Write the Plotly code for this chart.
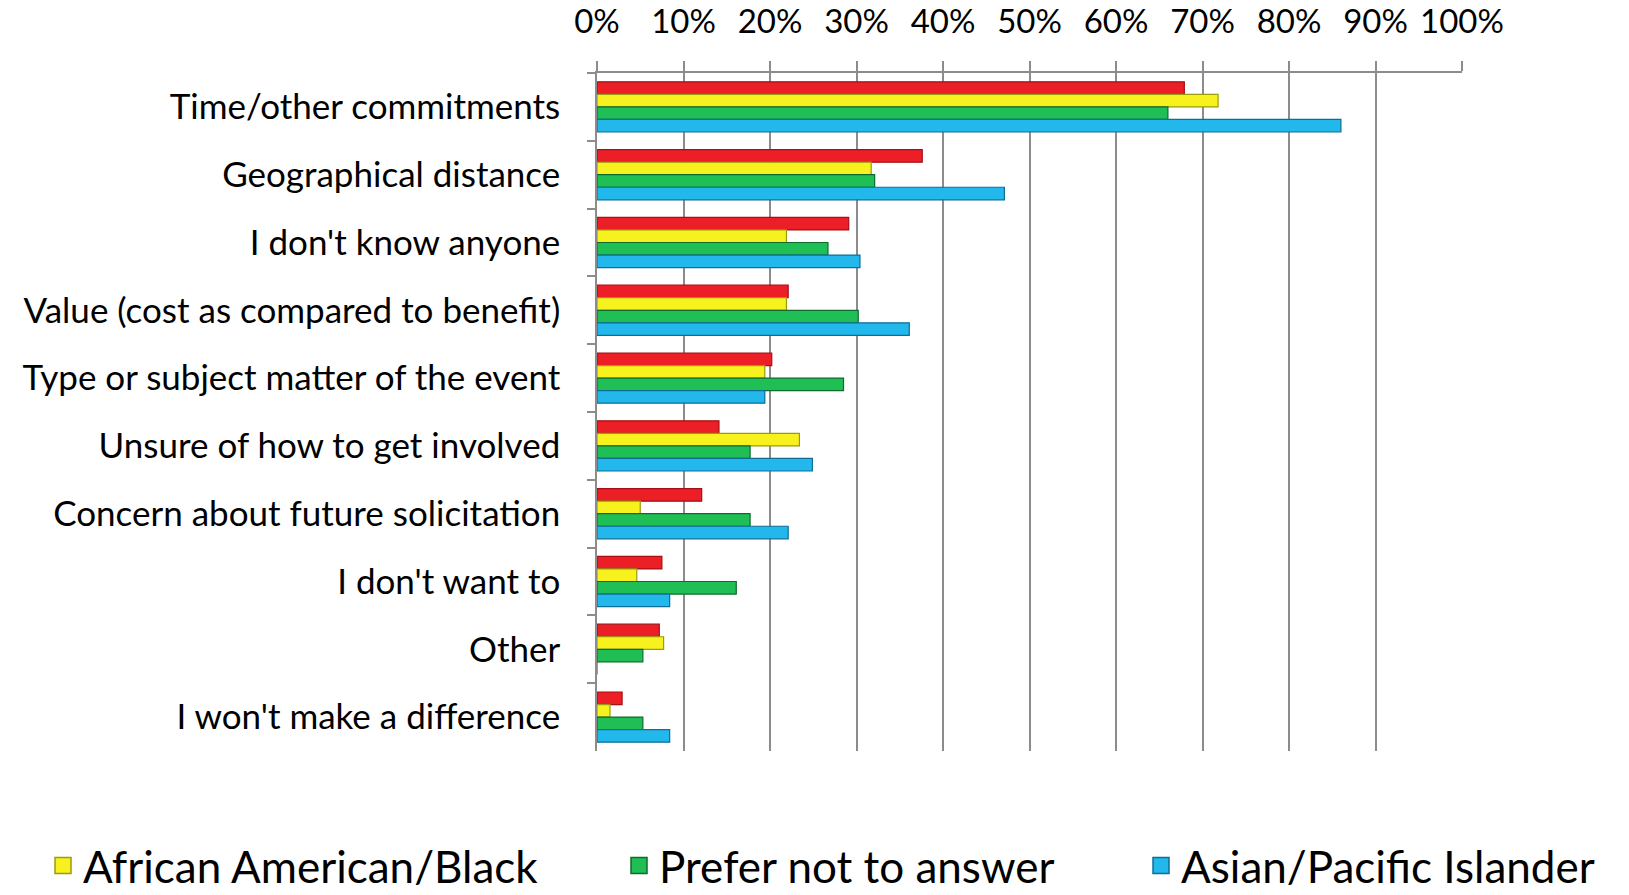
import plotly.graph_objects as go

categories = [
    "Time/other commitments",
    "Geographical distance",
    "I don't know anyone",
    "Value (cost as compared to benefit)",
    "Type or subject matter of the event",
    "Unsure of how to get involved",
    "Concern about future solicitation",
    "I don't want to",
    "Other",
    "I won't make a difference",
]

white_caucasian = [0.679, 0.376, 0.291, 0.221, 0.202, 0.141, 0.121, 0.075, 0.072, 0.029]
african_american = [0.718, 0.317, 0.219, 0.219, 0.194, 0.234, 0.050, 0.046, 0.077, 0.015]
prefer_not = [0.660, 0.321, 0.267, 0.302, 0.285, 0.177, 0.177, 0.161, 0.053, 0.053]
asian_pacific = [0.860, 0.471, 0.304, 0.361, 0.194, 0.249, 0.221, 0.084, 0.0, 0.084]

series = [
    ("White/Caucasian", white_caucasian, "#EC1F27", "#A50F15", None),
    ("African American/Black", african_american, "#F7F21E", "#9C9A10", "legend"),
    ("Prefer not to answer", prefer_not, "#1FBF55", "#0D6B2E", "legend2"),
    ("Asian/Pacific Islander", asian_pacific, "#22B8EC", "#0F6E96", "legend3"),
]

font_family = "Lato, 'Open Sans', sans-serif"

fig = go.Figure()
for name, vals, color, edge, leg in series:
    fig.add_trace(go.Bar(
        y=categories, x=vals, name=name, orientation="h",
        marker=dict(color=color, line=dict(color=edge, width=1.2)),
        showlegend=False,
    ))
# legend proxies (larger square symbols like the original)
for name, vals, color, edge, leg in series:
    if leg is None:
        continue
    fig.add_trace(go.Scatter(
        x=[None], y=[None], mode="markers", name=name,
        marker=dict(symbol="square", size=27, color=color, line=dict(color=edge, width=1.5)),
        showlegend=True, legend=leg,
    ))

# plot area on page: x 597..1462, y 73..751 (body margin removed below)
W, H = 1629, 895
L, T = 597, 73
R = W - 1462
B = H - 751
plot_w = W - L - R
plot_h = H - T - B


def px_x(px):
    return (px - 597) / float(plot_w)


legend_y = -(866 - 751) / float(plot_h)
leg_common = dict(orientation="h", xanchor="left", y=legend_y, yanchor="middle",
                  font=dict(size=44, family=font_family), itemsizing="trace",
                  bgcolor="rgba(0,0,0,0)")

fig.update_layout(
    width=W, height=H,
    barmode="group", bargap=0.26, bargroupgap=0.0,
    plot_bgcolor="white", paper_bgcolor="white",
    margin=dict(l=L, r=R, t=T, b=B, autoexpand=False),
    font=dict(family=font_family, color="black"),
    xaxis=dict(
        side="top", range=[0, 1], tickformat=".0%", dtick=0.1,
        showgrid=True, gridcolor="#8C8C8C", gridwidth=1.5,
        showline=True, linecolor="#8C8C8C", linewidth=1.5,
        ticks="outside", ticklen=10, tickcolor="#8C8C8C", tickwidth=1.5,
        ticklabelstandoff=15, automargin=False,
        tickfont=dict(size=33, family=font_family),
        zeroline=False,
    ),
    yaxis=dict(
        autorange="reversed", tickson="boundaries",
        showline=True, linecolor="#8C8C8C", linewidth=1.5,
        ticks="outside", ticklen=8, tickcolor="#8C8C8C", tickwidth=1.5,
        tickfont=dict(size=35, family=font_family),
        ticklabelstandoff=28, automargin=False,
        showgrid=False,
    ),
    legend=dict(x=px_x(43), **leg_common),
    legend2=dict(x=px_x(619), **leg_common),
    legend3=dict(x=px_x(1141), **leg_common),
)

fig.write_html("out.html", config={"displayModeBar": False},
               post_script="document.body.style.margin='0';")
